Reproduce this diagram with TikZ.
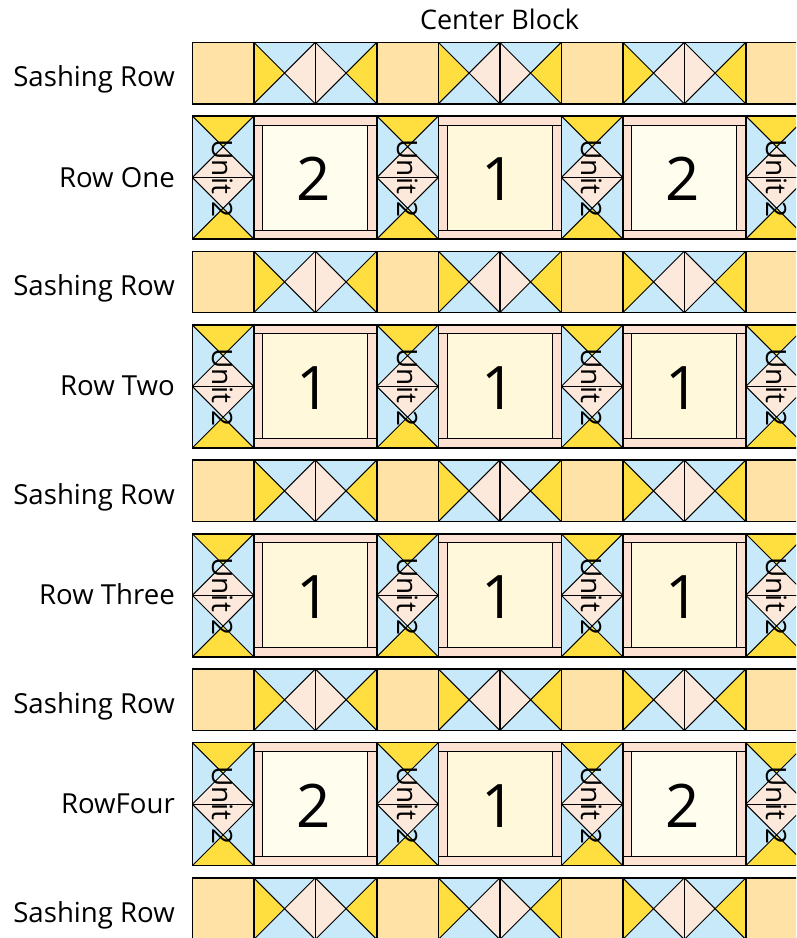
\documentclass[tikz,border=0pt]{standalone}
\usepackage{fontspec}
\setmainfont{Open Sans}
\definecolor{sashsq}{HTML}{FFE3A6}
\definecolor{qblue}{HTML}{C8E9FA}
\definecolor{qyellow}{HTML}{FFDF3F}
\definecolor{qpink}{HTML}{FDE8DC}
\definecolor{qframe}{HTML}{FDE2D3}
\definecolor{ctrA}{HTML}{FFFDEE}
\definecolor{ctrB}{HTML}{FFF8DA}
\tikzset{
  qedge/.style={draw=black, line width=1.4pt},
  qdiag/.style={draw=black, line width=1pt},
  rowlabel/.style={anchor=base east, font=\fontsize{27.6}{30}\selectfont, inner sep=0pt},
  unitlabel/.style={rotate=-90, font=\fontsize{28}{30}\selectfont, inner sep=0pt},
  numlabel/.style={font=\fontsize{60}{64}\selectfont, inner sep=0pt},
}
\def\qu{61.5}
\def\qx{192.3}
\def\qf{9}
\newcommand\qcross[6]{%
  \pgfmathsetmacro\xa{#1}\pgfmathsetmacro\xb{#1+\qu}\pgfmathsetmacro\xm{#1+\qu/2}%
  \pgfmathsetmacro\ya{#2}\pgfmathsetmacro\yb{#2+\qu}\pgfmathsetmacro\ym{#2+\qu/2}%
  \fill[#3] (\xa,\ya)--(\xb,\ya)--(\xm,\ym)--cycle;
  \fill[#4] (\xb,\ya)--(\xb,\yb)--(\xm,\ym)--cycle;
  \fill[#5] (\xb,\yb)--(\xa,\yb)--(\xm,\ym)--cycle;
  \fill[#6] (\xa,\yb)--(\xa,\ya)--(\xm,\ym)--cycle;
  \draw[qdiag] (\xa,\ya)--(\xb,\yb) (\xb,\ya)--(\xa,\yb);
  \draw[qedge] (\xa,\ya) rectangle (\xb,\yb);
}
\newcommand\sashrow[1]{%
  \foreach \c in {0,3,6,9}{\pgfmathsetmacro\cx{\qx+\c*\qu}%
    \filldraw[fill=sashsq, qedge] (\cx,#1) rectangle ({\cx+\qu},{#1+\qu});}
  \foreach \c in {1,4,7}{\pgfmathsetmacro\cx{\qx+\c*\qu}\pgfmathsetmacro\cz{\cx+\qu}%
    \qcross{\cx}{#1}{qblue}{qpink}{qblue}{qyellow}
    \qcross{\cz}{#1}{qblue}{qyellow}{qblue}{qpink}}
}
\newcommand\fblock[4]{%
  \pgfmathsetmacro\fa{#1}\pgfmathsetmacro\fb{#1+2*\qu}%
  \pgfmathsetmacro\ga{#2}\pgfmathsetmacro\gb{#2+2*\qu}%
  \ifnum#3=2 \def\ctr{ctrA}\else\def\ctr{ctrB}\fi
  \fill[qframe] (\fa,\ga) rectangle (\fb,\gb);
  \filldraw[fill=\ctr, qdiag] ({\fa+\qf},{\ga+\qf}) rectangle ({\fb-\qf},{\gb-\qf});
  \draw[qdiag] (\fa,{\ga+\qf}) -- (\fb,{\ga+\qf}) (\fa,{\gb-\qf}) -- (\fb,{\gb-\qf});
  \draw[qedge] (\fa,\ga) rectangle (\fb,\gb);
  \node[numlabel] (#4) at ({(\fa+\fb)/2-1.5},{(\ga+\gb)/2+1.5}) {#3};
}
\newcommand\blockrow[5]{%
  \foreach \c in {0,3,6,9}{\pgfmathsetmacro\cx{\qx+\c*\qu}\pgfmathsetmacro\cy{#1+\qu}%
    \qcross{\cx}{#1}{qyellow}{qblue}{qpink}{qblue}
    \qcross{\cx}{\cy}{qpink}{qblue}{qyellow}{qblue}
    \node[unitlabel] (u#5\c) at ({\cx+\qu/2},{\cy+1}) {Unit 2};}
  \fblock{\qx+\qu}{#1}{#2}{n#5a}
  \fblock{\qx+4*\qu}{#1}{#3}{n#5b}
  \fblock{\qx+7*\qu}{#1}{#4}{n#5c}
}
\begin{document}
\begin{tikzpicture}[x=1pt,y=-1pt]
\useasboundingbox (0,0) rectangle (796,938);
\clip (0,0) rectangle (796,938);
\def\pitch{208.9}
\foreach \k in {0,...,4}{\pgfmathsetmacro\sy{42.3+\k*\pitch}%
  \sashrow{\sy}
  \node[rowlabel] (sl\k) at (175,{\sy+44.5}) {Sashing Row};}
\blockrow{116}{2}{1}{2}{A}
\blockrow{324.9}{1}{1}{1}{B}
\blockrow{533.8}{1}{1}{1}{C}
\blockrow{742.7}{2}{1}{2}{D}
\node[rowlabel] (r1) at (175,{116+71}) {Row One};
\node[rowlabel] (r2) at (175,{324.9+71}) {Row Two};
\node[rowlabel] (r3) at (175,{533.8+71}) {Row Three};
\node[rowlabel] (r4) at (175,{742.7+71}) {RowFour};
\node[anchor=base, font=\fontsize{27}{30}\selectfont, inner sep=0pt] (cb) at (499.6,29.3) {Center Block};
\end{tikzpicture}
\end{document}
